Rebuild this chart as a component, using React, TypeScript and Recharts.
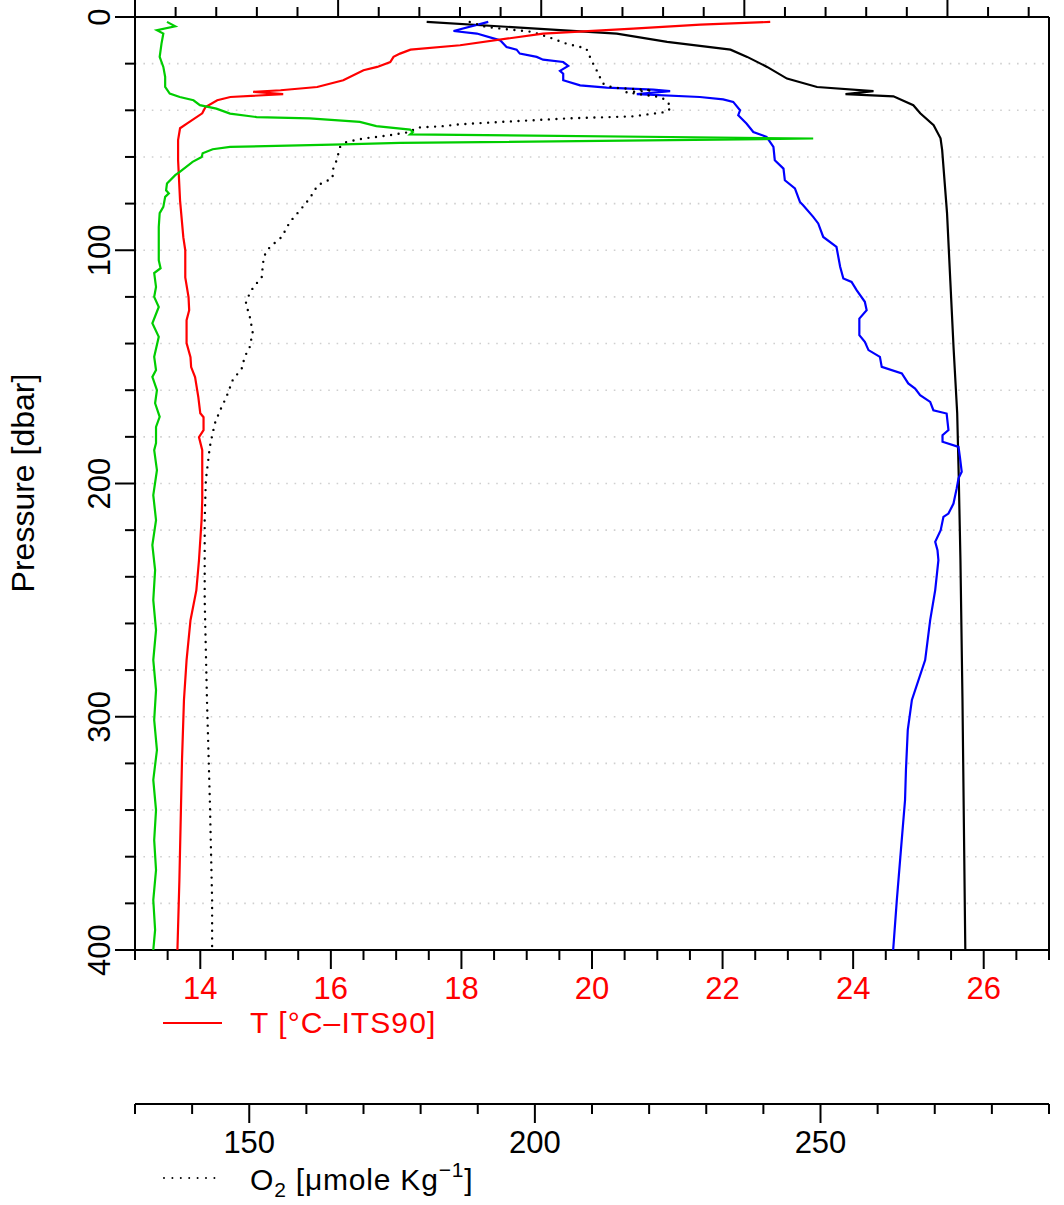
import React from 'react';
import { ScatterChart, Scatter, XAxis, YAxis, CartesianGrid } from 'recharts';

const FONT = "'Liberation Sans', Arial, Helvetica, sans-serif";
const FS = 31;
const LEGEND_FS = 30;

// ---- tick definitions ----
const pressureTicks = [0, 20, 40, 60, 80, 100, 120, 140, 160, 180, 200, 220, 240, 260, 280, 300, 320, 340, 360, 380, 400];
const pressureLabels = [0, 100, 200, 300, 400];
const temperatureTicks = [13, 13.5, 14, 14.5, 15, 15.5, 16, 16.5, 17, 17.5, 18, 18.5, 19, 19.5, 20, 20.5, 21, 21.5, 22, 22.5, 23, 23.5, 24, 24.5, 25, 25.5, 26, 26.5, 27];
const temperatureLabels = [14, 16, 18, 20, 22, 24, 26];
const oxygenTicks = [130, 140, 150, 160, 170, 180, 190, 200, 210, 220, 230, 240, 250, 260, 270, 280, 290];
const oxygenLabels = [150, 200, 250];
const salinityTicks = [36.5, 36.6, 36.7, 36.8, 36.9, 37.0, 37.1, 37.2, 37.3, 37.4, 37.5, 37.6, 37.7, 37.8, 37.9, 38.0, 38.1, 38.2, 38.3, 38.4, 38.5, 38.6, 38.7];
const salinityMajor = [36.5, 37.0, 37.5, 38.0, 38.5];

// ---- profiles: [pressure dbar, value] ----
const temperatureProfile: [number, number][] = [
  [2.1, 22.73], [3.3, 21.66], [5.0, 20.63], [7.1, 19.25], [12.1, 17.98], [14.0, 17.22], [15.7, 17.06],
  [17.1, 16.96], [19.3, 16.91], [21.4, 16.71], [22.8, 16.5], [27.1, 16.19], [30.0, 15.79], [31.4, 15.23],
  [32.1, 14.81], [33.1, 15.27], [34.3, 14.46], [35.7, 14.26], [38.6, 14.08], [41.3, 14.03], [45.6, 13.8],
  [47.7, 13.69], [52.8, 13.66], [61.4, 13.66], [78.6, 13.69], [94.4, 13.74], [100.0, 13.77], [111.6, 13.77],
  [120.1, 13.82], [125.7, 13.83], [130.0, 13.79], [139.8, 13.79], [145.8, 13.85], [150.1, 13.86],
  [154.4, 13.92], [163.0, 13.97], [169.9, 14.0], [171.6, 14.05], [177.1, 14.05], [180.1, 13.98],
  [185.7, 14.03], [207, 14.03], [215.7, 14.02], [232.9, 13.98], [245.7, 13.94], [258.6, 13.85],
  [275.7, 13.79], [292.8, 13.75], [318.6, 13.72], [344.3, 13.7], [370, 13.68], [400, 13.65],
];

const oxygenProfile: [number, number][] = [
  [2.1, 188.6], [4.3, 191.5], [6.4, 199.6], [8.8, 202.6], [11.4, 205.5], [13.5, 209.0], [18.6, 209.9],
  [22.8, 210.8], [28.5, 211.9], [30.3, 213.6], [31.4, 220.6], [32.3, 216.0], [34.3, 221.9], [35.7, 223.0],
  [38.8, 223.9], [40.7, 223.0], [42.6, 217.1], [43.5, 205.5], [45.0, 193.9], [46.0, 186.9], [46.8, 183.9],
  [47.4, 179.3], [49.3, 178.1], [50.7, 174.6], [52.1, 169.9], [53.6, 167.0], [55.7, 165.9], [61.4, 165.3],
  [65.7, 164.6], [69.1, 164.6], [72.1, 162.0], [77.7, 160.6], [82.8, 158.9], [87.9, 157.1], [94.3, 155.7],
  [98.6, 153.6], [102.1, 152.7], [105.6, 152.4], [111.4, 152.2], [116.3, 150.6], [120.0, 149.8],
  [122.7, 149.4], [128.6, 150.1], [135.0, 150.6], [141.4, 150.1], [145.7, 149.2], [150.6, 148.7],
  [155.7, 147.1], [162.9, 146.0], [168.6, 144.9], [174.1, 144.0], [178.4, 143.6], [184.3, 143.1],
  [198.6, 142.4], [215.7, 142.2], [250, 142.2], [292.9, 142.6], [335.7, 143.1], [378.6, 143.5], [400, 143.5],
];

const salinityProfile: [number, number][] = [
  [2.1, 37.218], [7.1, 37.686], [10.7, 37.81], [14.0, 37.966], [17.1, 38.007], [21.4, 38.056],
  [26.4, 38.105], [30.0, 38.179], [31.8, 38.318], [33.1, 38.249], [34.0, 38.367], [37.8, 38.416],
  [41.3, 38.433], [46.4, 38.466], [52.0, 38.483], [57.1, 38.487], [84.1, 38.499], [112.9, 38.507],
  [141.6, 38.515], [169.9, 38.524], [198.6, 38.528], [232.9, 38.532], [292.8, 38.537], [400, 38.544],
];

const sigmaProfile: [number, number][] = [
  [2.1, 27.773], [6.0, 27.697], [7.1, 27.748], [10.0, 27.799], [12.9, 27.813], [14.0, 27.835], [15.7, 27.842],
  [17.1, 27.879], [18.3, 27.893], [19.3, 27.937], [21.0, 27.948], [23.1, 27.93], [24.3, 27.937], [27.1, 27.937],
  [29.3, 27.974], [30.3, 28.032], [31.1, 28.134], [31.8, 28.171], [33.1, 28.098], [34.3, 28.236], [35.3, 28.287],
  [36.4, 28.309], [40.0, 28.324], [42.1, 28.32], [45.7, 28.338], [49.3, 28.353], [51.4, 28.382], [55.7, 28.397],
  [61.4, 28.4], [65.0, 28.419], [70.0, 28.422], [73.5, 28.444], [79.3, 28.455], [80.7, 28.462], [85.7, 28.484],
  [88.5, 28.495], [94.3, 28.506], [98.6, 28.535], [107.1, 28.543], [112.1, 28.55], [113.6, 28.568],
  [117.1, 28.579], [122.1, 28.597], [125.7, 28.601], [129.3, 28.585], [136.4, 28.585], [139.3, 28.597],
  [142.8, 28.605], [145.7, 28.63], [150.0, 28.634], [152.8, 28.678], [157.1, 28.692], [159.3, 28.707],
  [162.1, 28.718], [165.0, 28.74], [168.6, 28.747], [170.0, 28.776], [177.1, 28.78], [179.3, 28.767],
  [182.1, 28.767], [184.3, 28.802], [188.6, 28.805], [195.0, 28.809], [197.8, 28.802], [202.1, 28.798],
  [208.6, 28.791], [212.9, 28.78], [214.3, 28.769], [220.0, 28.763], [225.0, 28.751], [228.6, 28.756],
  [232.9, 28.758], [245.7, 28.751], [258.6, 28.74], [275.7, 28.729], [292.8, 28.7], [305.6, 28.691],
  [322.7, 28.687], [335.7, 28.685], [357.1, 28.676], [378.6, 28.667], [400, 28.659],
];

const fluorescenceProfile: [number, number][] = [
  [2.1, 0.035], [4.0, 0.044], [5.7, 0.024], [7.1, 0.031], [11.4, 0.029], [17.1, 0.027], [21.4, 0.031],
  [25.7, 0.033], [30.0, 0.033], [32.8, 0.038], [34.3, 0.049], [35.7, 0.064], [37.8, 0.071], [39.3, 0.089],
  [41.4, 0.104], [42.9, 0.133], [43.5, 0.191], [45.0, 0.246], [46.8, 0.264], [48.3, 0.301], [49.3, 0.304],
  [50.3, 0.301], [52.1, 0.742], [54.0, 0.29], [54.6, 0.228], [55.7, 0.104], [56.7, 0.085], [58.4, 0.074],
  [60.0, 0.073], [62.1, 0.063], [66.4, 0.049], [67.8, 0.044], [71.4, 0.035], [74.3, 0.034], [75.6, 0.037],
  [77.1, 0.033], [81.4, 0.031], [84.1, 0.027], [90.0, 0.026], [104.3, 0.026], [107.7, 0.028], [109.8, 0.021],
  [115.7, 0.023], [120.0, 0.021], [124.3, 0.026], [131.3, 0.019], [137.1, 0.026], [145.7, 0.021],
  [151.4, 0.023], [154.3, 0.019], [160.0, 0.024], [165.6, 0.022], [171.4, 0.027], [175.7, 0.023],
  [182.7, 0.023], [185.7, 0.021], [194.3, 0.024], [205, 0.02], [215.7, 0.023], [226.4, 0.019], [237.1, 0.022],
  [250, 0.02], [262.9, 0.023], [275.7, 0.02], [288.6, 0.023], [301.4, 0.021], [314.3, 0.024], [327.1, 0.02],
  [340, 0.023], [352.9, 0.021], [365.7, 0.023], [378.6, 0.02], [391.4, 0.022], [400, 0.02],
];

const toRows = (key: string, rows: [number, number][]) => rows.map(([p, v]) => ({ p, [key]: v }));

const tData = toRows('t', temperatureProfile);
const oData = toRows('o', oxygenProfile);
const sData = toRows('s', salinityProfile);
const gData = toRows('g', sigmaProfile);
const fData = toRows('f', fluorescenceProfile);

const NoShape = () => null;

const PressureTick = (props: any) => {
  const { x, y, payload } = props;
  const v = payload.value;
  const major = pressureLabels.includes(v);
  return (
    <g>
      <line x1={x - (major ? 20 : 10)} x2={x} y1={y} y2={y} stroke="#000" strokeWidth={2} />
      {major && (
        <text x={x - 25} y={y} transform={`rotate(-90 ${x - 25} ${y})`} textAnchor="middle" fontSize={FS} fontFamily={FONT} fill="#000">
          {v}
        </text>
      )}
    </g>
  );
};

const TemperatureTick = (props: any) => {
  const { x, y, payload } = props;
  const v = payload.value;
  const major = temperatureLabels.includes(v);
  return (
    <g>
      <line x1={x} x2={x} y1={y} y2={y + (major ? 19 : 10)} stroke="#000" strokeWidth={2} />
      {major && (
        <text x={x} y={y + 49} textAnchor="middle" fontSize={FS} fontFamily={FONT} fill="#ff0000">
          {v}
        </text>
      )}
    </g>
  );
};

const OxygenTick = (props: any) => {
  const { x, y, payload } = props;
  const v = payload.value;
  const major = oxygenLabels.includes(v);
  return (
    <g>
      <line x1={x} x2={x} y1={y} y2={y + (major ? 19 : 10)} stroke="#000" strokeWidth={2} />
      {major && (
        <text x={x} y={y + 49} textAnchor="middle" fontSize={FS} fontFamily={FONT} fill="#000">
          {v}
        </text>
      )}
    </g>
  );
};

const SalinityTick = (props: any) => {
  const { x, y, payload } = props;
  const v = payload.value;
  const major = salinityMajor.some((m) => Math.abs(m - v) < 1e-6);
  return <line x1={x} x2={x} y1={y} y2={y - (major ? 17 : 10)} stroke="#000" strokeWidth={2} />;
};

const PressureLabel = () => (
  <text x={34} y={483} transform="rotate(-90 34 483)" textAnchor="middle" fontSize={32} fontFamily={FONT} fill="#000">
    Pressure [dbar]
  </text>
);

const TemperatureLegend = () => (
  <g>
    <line x1={163} x2={222} y1={1023} y2={1023} stroke="#ff0000" strokeWidth={2} />
    <text x={250} y={1033} fontSize={LEGEND_FS} letterSpacing={1.1} fontFamily={FONT} fill="#ff0000">
      T [°C–ITS90]
    </text>
  </g>
);

const OxygenLegend = () => (
  <g>
    <line x1={164} x2={216} y1={1178} y2={1178} stroke="#000" strokeWidth={2} strokeDasharray="0 8.4" strokeLinecap="round" />
    <text x={250} y={1190} fontSize={LEGEND_FS} letterSpacing={0.8} fontFamily={FONT} fill="#000">
      O
      <tspan fontSize={21} dy={7}>2</tspan>
      <tspan dy={-7}> [μmole Kg</tspan>
      <tspan fontSize={21} dy={-13}>−1</tspan>
      <tspan dy={13}>]</tspan>
    </text>
  </g>
);

export default function App() {
  return (
    <div style={{ position: 'absolute', left: 0, top: 0, width: 1064, height: 1205, background: '#fff' }}>
      <ScatterChart width={1064} height={1205} margin={{ top: 0, right: 0, bottom: 0, left: 0 }}>
        <CartesianGrid
          xAxisId={1}
          yAxisId="p"
          vertical={false}
          stroke="#cfcfcf"
          strokeWidth={1.6}
          strokeDasharray="1.6 6.8"
        />
        <XAxis
          xAxisId={1}
          orientation="bottom"
          type="number"
          dataKey="t"
          domain={[13, 27]}
          ticks={temperatureTicks}
          interval={0}
          height={154}
          tickSize={0}
          tickMargin={0}
          tickLine={false}
          tick={<TemperatureTick />}
          axisLine={{ stroke: '#000', strokeWidth: 2 }}
          label={<TemperatureLegend />}
          allowDataOverflow
        />
        <XAxis
          xAxisId={2}
          orientation="bottom"
          type="number"
          dataKey="o"
          domain={[130, 290]}
          ticks={oxygenTicks}
          interval={0}
          height={101}
          tickSize={0}
          tickMargin={0}
          tickLine={false}
          tick={<OxygenTick />}
          axisLine={{ stroke: '#000', strokeWidth: 2 }}
          label={<OxygenLegend />}
          allowDataOverflow
        />
        <XAxis xAxisId={3} hide type="number" dataKey="g" domain={[27, 29]} allowDataOverflow />
        <XAxis xAxisId={4} hide type="number" dataKey="f" domain={[0, 1]} allowDataOverflow />
        <XAxis
          xAxisId={5}
          orientation="top"
          type="number"
          dataKey="s"
          domain={[36.5, 38.75]}
          ticks={salinityTicks}
          interval={0}
          height={17}
          tickSize={0}
          tickMargin={0}
          tickLine={false}
          tick={<SalinityTick />}
          axisLine={{ stroke: '#000', strokeWidth: 2 }}
          allowDataOverflow
        />
        <YAxis
          yAxisId="p"
          type="number"
          dataKey="p"
          domain={[0, 400]}
          reversed
          ticks={pressureTicks}
          interval={0}
          width={135}
          tickSize={0}
          tickMargin={0}
          tickLine={false}
          tick={<PressureTick />}
          axisLine={{ stroke: '#000', strokeWidth: 2 }}
          label={<PressureLabel />}
          allowDataOverflow
        />
        <YAxis
          yAxisId="r"
          orientation="right"
          type="number"
          domain={[0, 400]}
          width={15}
          tick={false}
          tickLine={false}
          axisLine={{ stroke: '#000', strokeWidth: 2 }}
        />
        <Scatter data={sData} xAxisId={5} yAxisId="p" fill="#000" shape={NoShape}
          line={{ stroke: '#000', strokeWidth: 2.2 }} isAnimationActive={false} />
        <Scatter data={gData} xAxisId={3} yAxisId="p" fill="#0000ff" shape={NoShape}
          line={{ stroke: '#0000ff', strokeWidth: 2.2 }} isAnimationActive={false} />
        <Scatter data={oData} xAxisId={2} yAxisId="p" fill="#000" shape={NoShape}
          line={{ stroke: '#000', strokeWidth: 2.4, strokeDasharray: '0 7.6', strokeLinecap: 'round' }} isAnimationActive={false} />
        <Scatter data={tData} xAxisId={1} yAxisId="p" fill="#ff0000" shape={NoShape}
          line={{ stroke: '#ff0000', strokeWidth: 2.2 }} isAnimationActive={false} />
        <Scatter data={fData} xAxisId={4} yAxisId="p" fill="#00cd00" shape={NoShape}
          line={{ stroke: '#00cd00', strokeWidth: 2.2 }} isAnimationActive={false} />
      </ScatterChart>
    </div>
  );
}
